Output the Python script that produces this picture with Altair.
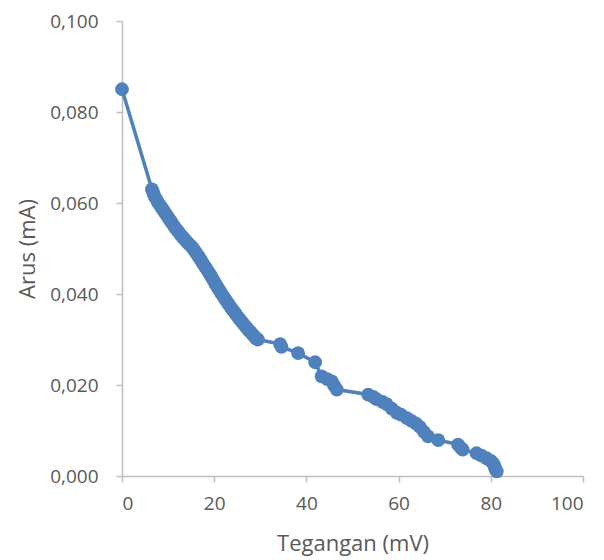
import altair as alt
import pandas as pd

tegangan = [0.0,
    6.5, 6.8, 7.1, 7.5, 7.9, 8.3, 8.7, 9.1, 9.5, 9.9, 10.3, 10.7, 11.1, 11.5, 11.9,
    12.3, 12.7, 13.1, 13.5, 13.9, 14.3, 14.7, 15.1, 15.5, 15.9, 16.3, 16.7, 17.1,
    17.5, 17.9, 18.3, 18.7, 19.1, 19.5, 19.9, 20.3, 20.7, 21.1, 21.5, 21.9, 22.3,
    22.7, 23.1, 23.5, 23.9, 24.3, 24.7, 25.1, 25.5, 25.9, 26.3, 26.7, 27.1, 27.5,
    27.9, 28.3, 28.7, 29.1, 29.5,
    34.3, 34.6, 38.2, 41.9, 43.3, 44.5, 45.5, 46.0, 46.6, 53.4, 54.5, 55.2, 56.5,
    57.4, 58.5, 59.6, 60.5, 61.8, 62.8, 63.8, 64.6, 65.5, 66.4, 68.6, 72.9, 73.5,
    73.9, 76.9, 78.0, 79.1, 80.0, 80.5, 80.8, 81.0, 81.3]

arus = [0.085,
    0.0630, 0.0622, 0.0614, 0.0607, 0.0600, 0.0594, 0.0588, 0.0582, 0.0576, 0.0570,
    0.0564, 0.0558, 0.0552, 0.0546, 0.0541, 0.0536, 0.0530, 0.0526, 0.0521, 0.0517,
    0.0512, 0.0508, 0.0504, 0.0499, 0.0493, 0.0487, 0.0481, 0.0475, 0.0468, 0.0462,
    0.0456, 0.0449, 0.0443, 0.0436, 0.0429, 0.0422, 0.0415, 0.0409, 0.0402, 0.0396,
    0.0390, 0.0384, 0.0378, 0.0372, 0.0366, 0.0361, 0.0356, 0.0350, 0.0345, 0.0340,
    0.0335, 0.0330, 0.0325, 0.0320, 0.0316, 0.0311, 0.0307, 0.0302, 0.0300,
    0.0290, 0.0284, 0.0270, 0.0250, 0.0219, 0.0213, 0.0208, 0.0199, 0.0190, 0.0179,
    0.0174, 0.0169, 0.0163, 0.0158, 0.0148, 0.0139, 0.0135, 0.0127, 0.0121, 0.0115,
    0.0108, 0.0097, 0.0087, 0.0079, 0.0069, 0.0062, 0.0058, 0.0050, 0.0045, 0.0039,
    0.0033, 0.0028, 0.0022, 0.0015, 0.0010]

x_ticks = [0, 20, 40, 60, 80, 100]
y_ticks = [0.0, 0.02, 0.04, 0.06, 0.08, 0.10]

df = pd.DataFrame({"Tegangan": tegangan, "Arus": arus, "order": list(range(len(arus)))})

COLOR = "#4F81BD"
FONT = "Open Sans"
AXIS = "#BFBFBF"
TXT = "#595959"

x = alt.X("Tegangan:Q", title="Tegangan (mV)",
          scale=alt.Scale(domain=[0, 100], nice=False, zero=False),
          axis=alt.Axis(values=x_ticks, grid=False, domainColor=AXIS, tickColor=AXIS,
                        tickSize=6, labelPadding=12, titlePadding=20))
y = alt.Y("Arus:Q", title="Arus (mA)",
          scale=alt.Scale(domain=[0, 0.1], nice=False),
          axis=alt.Axis(values=y_ticks, grid=False, domainColor=AXIS, tickColor=AXIS,
                        tickSize=6, labelPadding=18, titlePadding=10,
                        labelExpr="replace(format(datum.value, '.3f'), '.', ',')"))

base = alt.Chart(df).encode(x=x, y=y, order="order:Q")
line = base.mark_line(color=COLOR, strokeWidth=3.5)
pts = base.mark_point(filled=True, color=COLOR, size=190, opacity=1, shape="circle")

chart = (line + pts).properties(
    width=461, height=455,
    autosize=alt.AutoSizeParams(type="none"),
    padding={"left": 114, "top": 13, "right": 10, "bottom": 80},
).configure_view(stroke=None).configure_axis(
    labelFont=FONT, titleFont=FONT, labelFontSize=19, titleFontSize=22,
    labelColor=TXT, titleColor=TXT, titleFontWeight="normal", domainWidth=1.5, tickWidth=1.5
)

chart.save("out.html", embed_options={"renderer": "svg", "actions": False})
